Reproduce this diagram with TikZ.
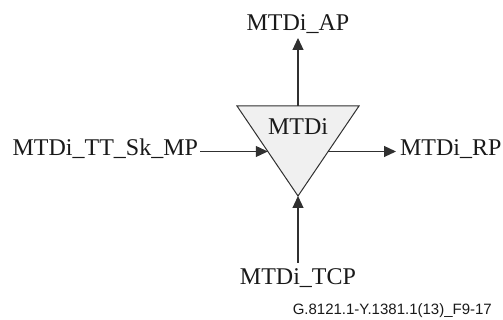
\documentclass[tikz,border=0pt]{standalone}
\usepackage{fontspec}
\setmainfont{Liberation Serif}
\newfontfamily\footfont{Liberation Sans}
\usetikzlibrary{arrows.meta}
\definecolor{linec}{HTML}{303030}
\definecolor{trifill}{HTML}{F0F0F0}
\begin{document}
\begin{tikzpicture}[x=1pt,y=1pt,
  lbl/.style={inner sep=0pt,outer sep=0pt,text=black!90,font=\fontsize{24}{28}\selectfont},
  conn/.style={draw=linec,line width=1.1pt,-{Triangle[length=12pt,width=11pt]}}]
\useasboundingbox (0,0) rectangle (503,320);
% triangle
\coordinate (tl) at (237,214);
\coordinate (tr) at (359,214);
\coordinate (tb) at (298,124);
\filldraw[fill=trifill,draw=linec,line width=1pt,line join=miter] (tl) -- (tr) -- (tb) -- cycle;
\node[lbl,anchor=base] (fn) at (298,185) {MTDi};
% connection points
\coordinate (topc) at (298,214);
\coordinate (lefc) at (267.8,168.5);
\coordinate (rigc) at (328.2,168.5);
% labels
\node[lbl,anchor=base] (ap) at (298,289) {MTDi\_AP};
\node[lbl,anchor=base east] (mp) at (198,164) {MTDi\_TT\_Sk\_MP};
\node[lbl,anchor=base west] (rp) at (400,164) {MTDi\_RP};
\node[lbl,anchor=base] (tcp) at (298,35) {MTDi\_TCP};
\node[inner sep=0pt,anchor=base east,font=\footfont\fontsize{15}{18}\selectfont,text=black!90] (foot) at (492,5) {G.8121.1-Y.1381.1(13)\_F9-17};
% connectors
\coordinate (apend) at (298,282);
\coordinate (mpst) at (200,168.5);
\coordinate (rpend) at (396,168.5);
\coordinate (tcpst) at (298,57);
\draw[conn] (topc) -- (apend);
\draw[conn] (mpst) -- (lefc);
\draw[conn] (rigc) -- (rpend);
\draw[conn] (tcpst) -- (tb);
\end{tikzpicture}
\end{document}
